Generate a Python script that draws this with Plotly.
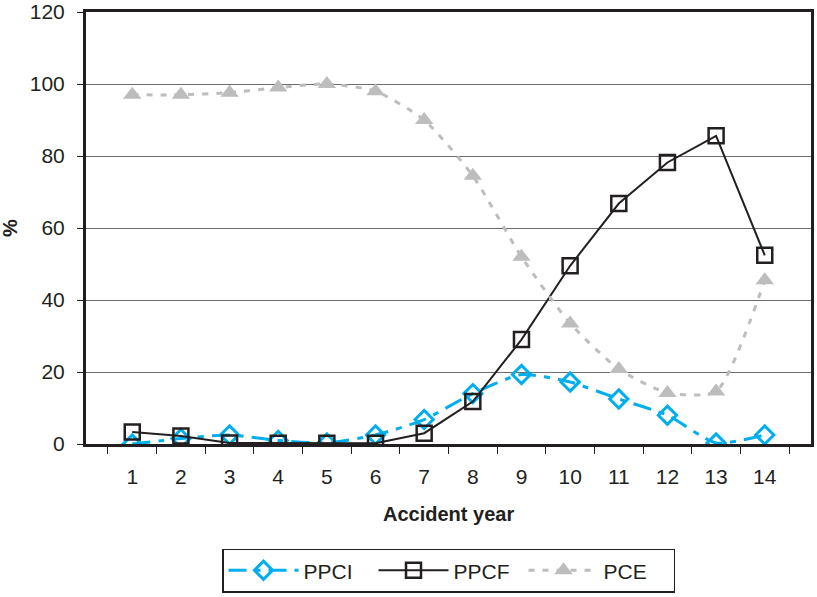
import plotly.graph_objects as go

years = [str(i) for i in range(1, 15)]
ppci = [0, 1.5, 2.5, 1, 0.3, 2.5, 6.8, 14, 19.3, 17.2, 12.5, 8, 0.3, 2.5]
ppcf = [3.3, 2.2, 0.3, 0.2, 0.2, 0.2, 3, 11.8, 29, 49.5, 66.8, 78.2, 85.6, 52.4]
pce = [97, 97, 97.6, 99, 100, 98, 90, 74.5, 52, 33.5, 20.8, 14.2, 14.6, 45.5]

ink = "#231F20"
font = "Liberation Sans, Arial, sans-serif"

fig = go.Figure()
fig.add_trace(go.Scatter(
    x=years, y=ppci, name="PPCI", mode="lines+markers",
    line=dict(color="#00AEEF", width=3, dash="18px,8px,6px,8px", shape="spline", smoothing=0.6),
    marker=dict(symbol="diamond-open", size=14, color="#00AEEF", line=dict(width=3, color="#00AEEF")),
))
fig.add_trace(go.Scatter(
    x=years, y=ppcf, name="PPCF", mode="lines+markers",
    line=dict(color=ink, width=2),
    marker=dict(symbol="square-open", size=15, color=ink, line=dict(width=2.5, color=ink)),
))
fig.add_trace(go.Scatter(
    x=years, y=pce, name="PCE", mode="lines+markers",
    line=dict(color="#BDBDBD", width=3, dash="6px,8px", shape="spline", smoothing=0.6),
    marker=dict(symbol="triangle-up", size=16, color="#BDBDBD"),
))

fig.update_layout(
    template="none",
    width=817, height=597,
    margin=dict(l=86, r=6, t=12, b=152),
    paper_bgcolor="white", plot_bgcolor="white",
    font=dict(family=font, color=ink, size=21),
    showlegend=True,
    legend=dict(
        orientation="h", x=0.5, xanchor="center", y=-0.341, yanchor="bottom",
        bordercolor=ink, borderwidth=1.5, font=dict(size=21, color=ink),
        itemwidth=70, entrywidth=65, entrywidthmode="pixels",
        traceorder="normal", bgcolor="white",
    ),
    annotations=[
        dict(text="<b>Accident year</b>", xref="paper", yref="paper", x=0.5, y=-0.162,
             xanchor="center", yanchor="middle", showarrow=False, font=dict(size=20, color=ink)),
        dict(text="<b>%</b>", xref="paper", yref="paper", x=-0.105, y=0.5,
             xanchor="center", yanchor="middle", showarrow=False, textangle=-90,
             font=dict(size=20, color=ink)),
    ],
)
fig.update_xaxes(
    type="category", tickson="boundaries", ticks="outside", ticklen=7, tickcolor=ink, tickwidth=1,
    showline=True, linecolor=ink, linewidth=3, mirror=True, showgrid=False, automargin=False,
    tickfont=dict(size=21, color=ink), ticklabelstandoff=12,
)
fig.update_yaxes(
    range=[0, 120], dtick=20, ticks="outside", ticklen=6, tickcolor=ink, tickwidth=1,
    showline=True, linecolor=ink, linewidth=3, mirror=True, automargin=False,
    showgrid=True, gridcolor="#6E6E6E", gridwidth=1, zeroline=False,
    tickfont=dict(size=21, color=ink), ticklabelstandoff=8,
)

fig.write_html("out.html", config={"displayModeBar": False},
               post_script="document.body.style.margin='0';")
